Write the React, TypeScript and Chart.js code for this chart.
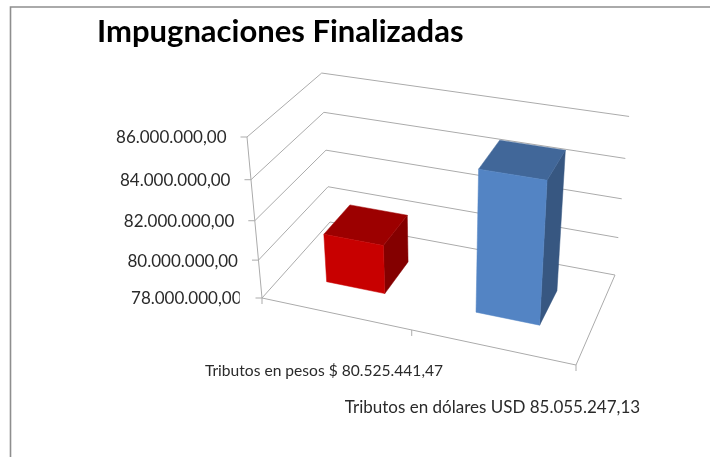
import React, { useEffect, useRef } from "react";
import { Chart, registerables } from "chart.js";

Chart.register(...registerables);

const categories = ["Tributos en pesos $ 80.525.441,47", "Tributos en dólares USD 85.055.247,13"];
const values = [80525441.47, 85055247.13];
const barColors = ["#C80000", "#5384C4"];
const yTickLabels = ["78.000.000,00", "80.000.000,00", "82.000.000,00", "84.000.000,00", "86.000.000,00"];
const titleText = "Impugnaciones Finalizadas";

const FL = [262, 298];
const FR = [576, 365];
const BR = [615, 275];
const BL = [330, 222];
const FL_TOP = [247, 137];
const BL_TOP = [321.7, 73];
const DEPTH_FRONT = 0.305;
const DEPTH_BACK = 0.7;
const GRID = "#ABABAB";
const FRAME = "#8E8E8E";
const CATEGORY_LABEL_POS = [[324, 370.7], [492.5, 408]];
const CATEGORY_FONT_SIZES = [15.6, 17];

function makeProjection() {
  const dx1 = FR[0] - BR[0], dx2 = BL[0] - BR[0], sx = FL[0] - FR[0] + BR[0] - BL[0];
  const dy1 = FR[1] - BR[1], dy2 = BL[1] - BR[1], sy = FL[1] - FR[1] + BR[1] - BL[1];
  const det = dx1 * dy2 - dx2 * dy1;
  const g = (sx * dy2 - dx2 * sy) / det;
  const h = (dx1 * sy - sx * dy1) / det;
  const a = FR[0] - FL[0] + g * FR[0], b = BL[0] - FL[0] + h * BL[0];
  const d = FR[1] - FL[1] + g * FR[1], e = BL[1] - FL[1] + h * BL[1];
  const i = (b + FL_TOP[0] - BL_TOP[0] * (1 + h)) / (BL_TOP[0] - FL_TOP[0]);
  const c = FL_TOP[0] * (1 + i) - FL[0];
  const f = FL_TOP[1] * (1 + i) - FL[1];
  return (u: number, v: number, w: number): [number, number] => {
    const den = 1 + g * u + h * v + i * w;
    return [(a * u + b * v + c * w + FL[0]) / den, (d * u + e * v + f * w + FL[1]) / den];
  };
}
const project = makeProjection();

function line(ctx: CanvasRenderingContext2D, p: number[], q: number[]) {
  ctx.beginPath();
  ctx.moveTo(p[0], p[1]);
  ctx.lineTo(q[0], q[1]);
  ctx.stroke();
}

function poly(ctx: CanvasRenderingContext2D, pts: number[][], fill: string) {
  ctx.beginPath();
  pts.forEach((p, n) => (n ? ctx.lineTo(p[0], p[1]) : ctx.moveTo(p[0], p[1])));
  ctx.closePath();
  ctx.fillStyle = fill;
  ctx.fill();
  ctx.strokeStyle = fill;
  ctx.lineWidth = 0.5;
  ctx.stroke();
}

function shade(hex: string, k: number) {
  const n = parseInt(hex.slice(1), 16);
  const ch = (s: number) => Math.round(((n >> s) & 255) * k);
  return `rgb(${ch(16)},${ch(8)},${ch(0)})`;
}

const scene3d = {
  id: "scene3d",
  beforeDraw(chart: any) {
    const { ctx, width, height } = chart;
    ctx.save();
    ctx.strokeStyle = FRAME;
    ctx.lineWidth = 1.6;
    ctx.beginPath();
    ctx.moveTo(10.5, height);
    ctx.lineTo(10.5, 7);
    ctx.lineTo(width, 7);
    ctx.stroke();
    ctx.restore();
  },
  beforeDatasetsDraw(chart: any) {
    const { ctx, chartArea, scales } = chart;
    const wOf = (px: number) => (chartArea.bottom - px) / (chartArea.bottom - chartArea.top);
    ctx.save();
    ctx.strokeStyle = GRID;
    ctx.lineWidth = 1;
    scales.y.ticks.forEach((t: any) => {
      const w = wOf(scales.y.getPixelForValue(t.value));
      const fl = project(0, 0, w);
      const bl = project(0, 1, w);
      const br = project(1, 1, w);
      line(ctx, fl, bl);
      line(ctx, bl, br);
      line(ctx, [fl[0] - 6.5, fl[1]], fl);
    });
    const f0 = project(0, 0, 0);
    const f1 = project(1, 0, 0);
    line(ctx, f0, f1);
    line(ctx, f1, project(1, 1, 0));
    line(ctx, f0, project(0, 0, 1));
    [0, 0.5, 1].forEach((u) => {
      const p = project(u, 0, 0);
      line(ctx, p, [p[0], p[1] + 6]);
    });
    ctx.restore();
  },
  beforeDatasetDraw(chart: any, args: any) {
    const { ctx, chartArea } = chart;
    const meta = chart.getDatasetMeta(args.index);
    const W = chartArea.right - chartArea.left;
    const H = chartArea.bottom - chartArea.top;
    ctx.save();
    meta.data.forEach((el: any) => {
      const u0 = (el.x - el.width / 2 - chartArea.left) / W;
      const u1 = (el.x + el.width / 2 - chartArea.left) / W;
      const w = (chartArea.bottom - el.y) / H;
      const color = el.options.backgroundColor;
      const [v0, v1] = [DEPTH_FRONT, DEPTH_BACK];
      poly(ctx, [project(u1, v0, 0), project(u1, v1, 0), project(u1, v1, w), project(u1, v0, w)], shade(color, 0.66));
      poly(ctx, [project(u0, v0, w), project(u1, v0, w), project(u1, v1, w), project(u0, v1, w)], shade(color, 0.78));
      poly(ctx, [project(u0, v0, 0), project(u1, v0, 0), project(u1, v0, w), project(u0, v0, w)], color);
    });
    ctx.restore();
    return false;
  },
};

export default function App() {
  const ref = useRef<HTMLCanvasElement>(null);
  useEffect(() => {
    const chart = new Chart(ref.current as HTMLCanvasElement, {
      type: "bar",
      data: {
        labels: categories,
        datasets: [
          {
            data: values,
            backgroundColor: barColors,
            barPercentage: 0.4,
            categoryPercentage: 1,
          },
        ],
      },
      plugins: [scene3d],
      options: {
        animation: false,
        responsive: false,
        layout: { autoPadding: false, padding: { top: 0, left: 97, right: 133.25, bottom: 0 } },
        plugins: {
          legend: { display: false },
          tooltip: { enabled: false },
          title: {
            display: true,
            text: titleText,
            align: "start",
            color: "#000",
            font: { family: "Lato", size: 31, weight: "bold", lineHeight: 1.2 },
            padding: { top: 13.3, bottom: 86.5 },
          },
        },
        scales: {
          x: {
            grid: { display: false, drawTicks: false },
            border: { display: false },
            afterFit(scale: any) {
              scale.height = 159;
              const base = scale._computeLabelItems.bind(scale);
              scale._computeLabelItems = (area: any) =>
                base(area).map((item: any, n: number) => ({
                  ...item,
                  textOffset: 0,
                  options: {
                    ...item.options,
                    textAlign: "center",
                    textBaseline: "middle",
                    translation: CATEGORY_LABEL_POS[n],
                  },
                }));
            },
            ticks: {
              autoSkip: false,
              maxRotation: 0,
              minRotation: 0,
              padding: 54,
              color: "#2a2a2a",
              font(ctx: any) {
                return { family: "Lato", size: CATEGORY_FONT_SIZES[ctx.index] };
              },
              callback(_v: any, i: number) {
                return categories[i];
              },
            },
          },
          y: {
            min: 78000000,
            max: 86000000,
            grid: { display: false, drawTicks: false },
            border: { display: false },
            afterFit(scale: any) {
              scale.width = 142.75;
              // The value axis leans with the 3D box: each label follows its projected tick.
              const base = scale._computeLabelItems.bind(scale);
              scale._computeLabelItems = (area: any) =>
                base(area).map((item: any, n: number) => {
                  const tick = scale.ticks[n];
                  const w = (scale.bottom - scale.getPixelForValue(tick.value)) / (scale.bottom - scale.top);
                  const p = project(0, 0, w);
                  return { ...item, options: { ...item.options, translation: [p[0] - 20.5, p[1] + 1] } };
                });
            },
            ticks: {
              stepSize: 2000000,
              padding: 2,
              color: "#2a2a2a",
              font: { family: "Lato", size: 17 },
              callback(_v: any, i: number) {
                return yTickLabels[i];
              },
            },
          },
        },
      },
    } as any);
    return () => chart.destroy();
  }, []);
  return (
    <div style={{ position: "fixed", left: 0, top: 0 }}>
      <canvas ref={ref} width={710} height={457} style={{ display: "block" }} />
    </div>
  );
}
